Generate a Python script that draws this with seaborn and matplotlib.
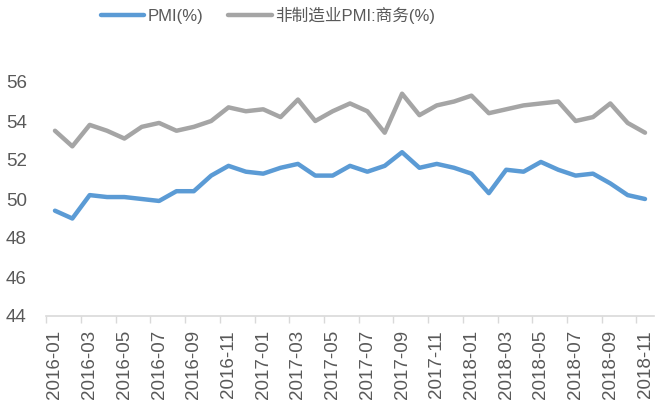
import matplotlib
matplotlib.use("Agg")
import matplotlib.pyplot as plt
import seaborn as sns
import pandas as pd
import numpy as np
from matplotlib.lines import Line2D

months = [f"{y}-{m:02d}" for y in (2016, 2017, 2018) for m in range(1, 13)][:35]
pmi = [49.4, 49.0, 50.2, 50.1, 50.1, 50.0, 49.9, 50.4, 50.4, 51.2, 51.7, 51.4,
       51.3, 51.6, 51.8, 51.2, 51.2, 51.7, 51.4, 51.7, 52.4, 51.6, 51.8, 51.6,
       51.3, 50.3, 51.5, 51.4, 51.9, 51.5, 51.2, 51.3, 50.8, 50.2, 50.0]
non_mfg = [53.5, 52.7, 53.8, 53.5, 53.1, 53.7, 53.9, 53.5, 53.7, 54.0, 54.7, 54.5,
           54.6, 54.2, 55.1, 54.0, 54.5, 54.9, 54.5, 53.4, 55.4, 54.3, 54.8, 55.0,
           55.3, 54.4, 54.6, 54.8, 54.9, 55.0, 54.0, 54.2, 54.9, 53.9, 53.4]
series_names = ["PMI(%)", "非制造业PMI:商务(%)"]
colors = ["#5B9BD5", "#A5A5A5"]
yticks = [44, 46, 48, 50, 52, 54, 56]

sns.set_theme(style="white")
plt.rcParams['font.family'] = ['Liberation Sans', 'Noto Sans CJK SC', 'DejaVu Sans']

df = pd.DataFrame({"idx": list(range(len(months))) * 2,
                   "value": pmi + non_mfg,
                   "series": [series_names[0]] * len(months) + [series_names[1]] * len(months)})

fig = plt.figure(figsize=(6.56, 4.12), dpi=100)
ax = fig.add_axes([46.3 / 656, 1 - 316 / 412, (653.7 - 46.3) / 656, (316 - 82) / 412])
sns.lineplot(data=df, x="idx", y="value", hue="series", palette=colors,
             linewidth=3.2, ax=ax, legend=False, clip_on=False)
ax.set_xlim(-0.5, len(months) - 0.5)
ax.set_ylim(44, 56)
ax.set_yticks(yticks)
ax.set_yticklabels([str(v) for v in yticks], fontsize=13.5, color="#595959")
ax.set_xticks(range(0, len(months), 2))
ax.set_xticklabels(months[::2], rotation=90, fontsize=13.5, color="#595959")
ax.tick_params(axis="x", length=0, pad=10)
ax.tick_params(axis="y", length=0, pad=14)
ax.set_xticks(np.arange(-0.5, len(months), 2), minor=True)
ax.tick_params(axis="x", which="minor", length=5, color="#D9D9D9", width=1, direction="out")
ax.xaxis.set_ticks_position("bottom")
for s in ["top", "right", "left"]:
    ax.spines[s].set_visible(False)
ax.spines["bottom"].set_color("#D9D9D9")
ax.spines["bottom"].set_linewidth(1.2)
ax.set_xlabel("")
ax.set_ylabel("")

handles = [Line2D([0], [0], color=c, lw=3.2) for c in colors]
fig.legend(handles, series_names, loc="center", bbox_to_anchor=(268 / 656, 1 - 15 / 412),
           ncol=2, frameon=False, fontsize=12, handlelength=2.6, columnspacing=1.5,
           handletextpad=0.2, labelcolor="#595959")

fig.savefig("out.png", dpi=100)
